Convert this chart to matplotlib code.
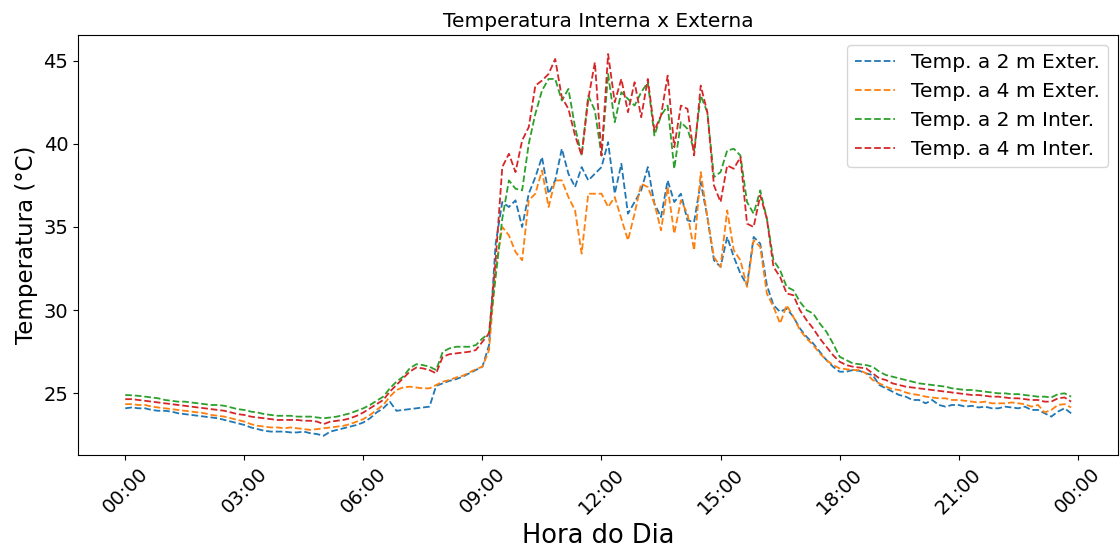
import matplotlib
matplotlib.use("Agg")
import matplotlib.pyplot as plt
import matplotlib.dates as mdates
import pandas as pd

# leituras a cada 10 minutos, 00:00 .. 23:50
horas = pd.date_range("2023-01-01 00:00", periods=144, freq="10min")

t2_ext = [
    24.1, 24.15, 24.1, 24.1, 24.0, 23.95,
    23.95, 23.9, 23.8, 23.75, 23.7, 23.65,
    23.6, 23.55, 23.5, 23.4, 23.3, 23.2,
    23.1, 22.95, 22.85, 22.75, 22.7, 22.7,
    22.7, 22.65, 22.65, 22.7, 22.6, 22.55,
    22.45, 22.7, 22.8, 22.9, 23.0, 23.1,
    23.25, 23.5, 23.85, 24.1, 24.5, 23.95,
    24.0, 24.05, 24.1, 24.15, 24.2, 25.45,
    25.6, 25.75, 25.85, 26.0, 26.2, 26.4,
    26.6, 27.9, 34.0, 36.5, 36.2, 36.6,
    35.0, 37.0, 38.0, 39.2, 37.0, 37.8,
    39.7, 38.2, 37.4, 38.6, 37.8, 38.2,
    38.6, 40.1, 37.0, 38.8, 35.8, 36.5,
    37.2, 38.6, 36.4, 35.6, 37.8, 36.5,
    37.0, 35.4, 35.3, 37.7, 35.6, 33.0,
    32.6, 34.4, 33.2, 32.2, 31.5, 34.4,
    34.0, 31.5, 30.3, 29.9, 30.1, 29.6,
    28.9, 28.4, 28.0, 27.5, 27.0, 26.6,
    26.3, 26.3, 26.4, 26.35, 26.2, 26.1,
    25.5, 25.3, 25.1, 24.9, 24.8, 24.6,
    24.6, 24.4, 24.6, 24.3, 24.2, 24.3,
    24.3, 24.2, 24.25, 24.15, 24.2, 24.1,
    24.1, 24.2, 24.15, 24.1, 24.2, 24.0,
    24.0, 23.8, 23.6, 23.9, 24.1, 23.8,
]

t4_ext = [
    24.35, 24.35, 24.3, 24.3, 24.2, 24.15,
    24.1, 24.05, 24.0, 23.95, 23.9, 23.85,
    23.8, 23.7, 23.65, 23.6, 23.5, 23.4,
    23.3, 23.15, 23.05, 23.0, 22.95, 22.95,
    22.9, 22.95, 22.9, 22.85, 22.8, 22.85,
    22.9, 22.95, 23.0, 23.05, 23.15, 23.3,
    23.45, 23.7, 24.0, 24.3, 24.8, 25.2,
    25.35, 25.4, 25.35, 25.3, 25.3, 25.5,
    25.7, 25.8, 25.95, 26.05, 26.25, 26.45,
    26.6, 27.6, 32.5, 35.0, 34.5, 33.5,
    33.0, 36.6, 37.0, 38.4, 36.2, 37.8,
    37.8, 36.8, 36.0, 33.4, 37.0, 37.0,
    37.0, 36.2, 36.8, 35.5, 34.2, 35.8,
    37.6, 37.4, 36.4, 34.8, 37.4, 34.6,
    36.6, 35.8, 33.6, 38.3, 35.6, 33.2,
    32.6, 36.0, 33.6, 33.0, 31.4, 34.2,
    33.8, 31.0, 30.2, 29.2, 30.3, 29.6,
    28.8, 28.3, 27.9, 27.4, 27.0, 26.7,
    26.5, 26.45, 26.4, 26.4, 26.2, 25.8,
    25.6, 25.4, 25.25, 25.2, 25.05, 24.95,
    24.9, 24.8, 24.75, 24.7, 24.7, 24.6,
    24.6, 24.55, 24.5, 24.45, 24.5, 24.4,
    24.4, 24.4, 24.45, 24.4, 24.35, 24.2,
    24.3, 23.85, 24.0, 24.3, 24.35, 24.15,
]

t2_int = [
    24.9, 24.88, 24.85, 24.8, 24.75, 24.7,
    24.6, 24.55, 24.5, 24.5, 24.45, 24.4,
    24.35, 24.3, 24.3, 24.25, 24.15, 24.05,
    24.0, 23.9, 23.85, 23.75, 23.7, 23.65,
    23.65, 23.65, 23.6, 23.6, 23.6, 23.55,
    23.5, 23.55, 23.6, 23.7, 23.8, 23.95,
    24.1, 24.3, 24.55, 24.8, 25.3, 25.7,
    26.0, 26.5, 26.75, 26.7, 26.6, 26.4,
    27.5, 27.7, 27.8, 27.8, 27.8, 27.9,
    28.3, 28.6, 32.0, 35.5, 37.8, 37.3,
    37.2, 40.0, 41.8, 43.2, 43.9, 43.9,
    42.6, 43.3, 41.0, 39.3, 42.9, 42.0,
    39.3, 44.2, 41.3, 43.1, 42.7, 42.3,
    43.1, 43.7, 40.5, 41.7, 42.3, 38.5,
    41.3, 40.9, 39.6, 42.9, 41.9, 38.0,
    38.3, 39.6, 39.7, 39.3, 36.5, 35.8,
    37.2, 35.5, 33.0, 32.4, 31.4, 31.2,
    30.5, 30.0, 29.8, 29.2, 28.7, 28.0,
    27.2, 27.0, 26.8, 26.75, 26.7, 26.6,
    26.3, 26.1, 26.0, 25.9, 25.8, 25.7,
    25.6, 25.55, 25.5, 25.45, 25.4, 25.3,
    25.25, 25.2, 25.2, 25.15, 25.1, 25.05,
    25.0, 25.0, 24.95, 24.95, 24.9, 24.85,
    24.8, 24.8, 24.75, 24.95, 25.0, 24.8,
]

t4_int = [
    24.65, 24.65, 24.6, 24.55, 24.5, 24.45,
    24.4, 24.35, 24.3, 24.25, 24.2, 24.15,
    24.1, 24.05, 24.0, 23.95, 23.85, 23.75,
    23.7, 23.6, 23.55, 23.5, 23.45, 23.4,
    23.4, 23.4, 23.4, 23.35, 23.35, 23.3,
    23.15, 23.3, 23.35, 23.4, 23.5, 23.65,
    23.85, 24.1, 24.35, 24.6, 25.1, 25.5,
    25.9, 26.3, 26.55, 26.5, 26.4, 26.2,
    27.2, 27.35, 27.4, 27.45, 27.5, 27.6,
    28.1, 28.6, 33.0, 38.6, 39.4, 38.3,
    40.2, 41.0, 43.5, 43.8, 44.2, 45.1,
    42.8, 42.1, 40.5, 39.3, 42.7, 44.9,
    39.3, 45.4, 42.5, 43.9, 41.9, 43.7,
    41.6, 43.9, 40.8, 41.7, 44.1, 39.8,
    42.3, 42.1, 39.3, 43.5, 41.9, 37.5,
    36.5, 38.7, 38.5, 39.2, 35.2, 35.0,
    36.9, 35.5, 32.6, 32.0, 31.0, 30.9,
    30.0, 29.4, 28.9, 28.3, 27.8, 27.3,
    26.9, 26.7, 26.6, 26.55, 26.5, 26.2,
    25.9, 25.8, 25.6, 25.5, 25.4, 25.35,
    25.3, 25.25, 25.2, 25.15, 25.1, 25.05,
    25.0, 24.95, 24.9, 24.9, 24.85, 24.8,
    24.8, 24.75, 24.7, 24.7, 24.65, 24.6,
    24.6, 24.5, 24.5, 24.7, 24.75, 24.5,
]

fig = plt.figure(figsize=(11.2, 5.54), dpi=100)
ax = fig.add_axes([0.0696, 0.179, 0.929, 0.758])

lw = 1.3
ax.plot(horas, t2_ext, '--', lw=lw, color='tab:blue', label='Temp. a 2 m Exter.')
ax.plot(horas, t4_ext, '--', lw=lw, color='tab:orange', label='Temp. a 4 m Exter.')
ax.plot(horas, t2_int, '--', lw=lw, color='tab:green', label='Temp. a 2 m Inter.')
ax.plot(horas, t4_int, '--', lw=lw, color='tab:red', label='Temp. a 4 m Inter.')

ax.xaxis.set_major_locator(mdates.HourLocator(byhour=range(0, 24, 3)))
ax.xaxis.set_major_formatter(mdates.DateFormatter('%H:%M'))
plt.setp(ax.get_xticklabels(), rotation=45)
ax.tick_params(axis='both', labelsize=14)

ax.set_title('Temperatura Interna x Externa', fontsize=14.5)
ax.set_xlabel('Hora do Dia', fontsize=18.5)
ax.set_ylabel('Temperatura (°C)', fontsize=16.5)
ax.legend(loc='upper right', fontsize=14.5)

fig.savefig('out.png', dpi=100)
